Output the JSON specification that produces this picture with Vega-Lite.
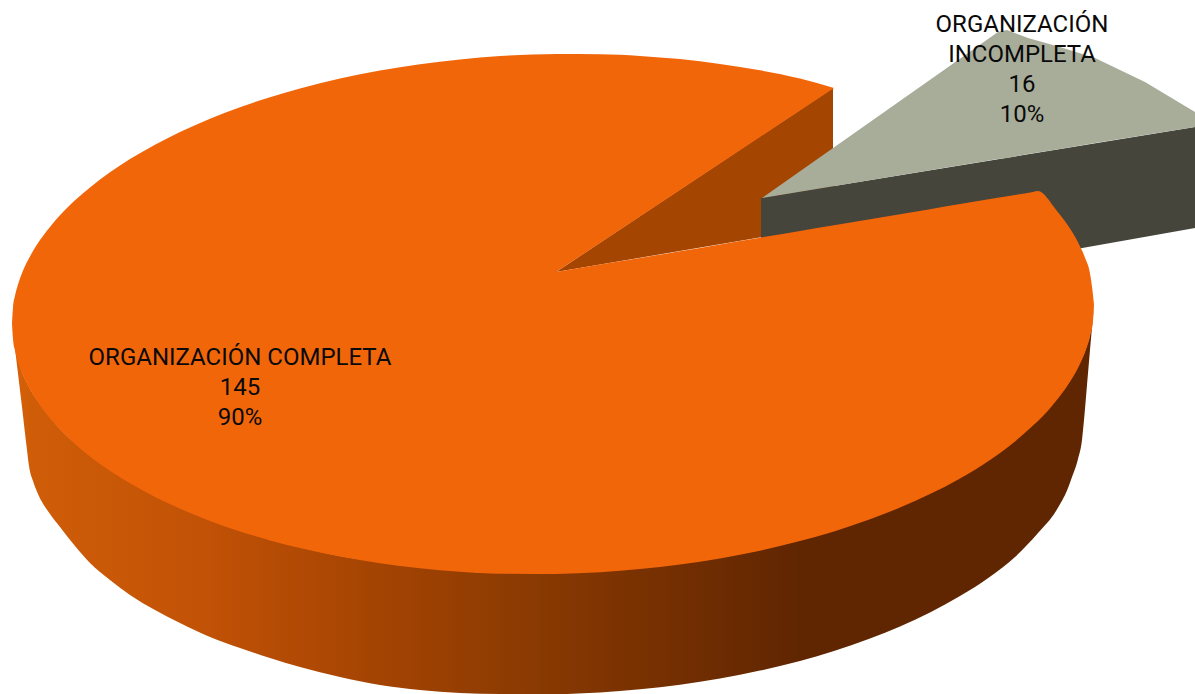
{
"$schema":"https://vega.github.io/schema/vega-lite/v6.json",
"width":1195,"height":694,"padding":0,
"autosize":{"type":"fit","contains":"padding"},
"background":"white",
"view":{"stroke":null},
"datasets":{
"outline":[
{"part":"wall","x":12,"y":323,"y2":323},{"part":"wall","x":16,"y":350,"y2":357},{"part":"wall","x":22,"y":372,"y2":407},{"part":"wall","x":27,"y":383,"y2":450},{"part":"wall","x":29,"y":387,"y2":466},{"part":"wall","x":33,"y":394,"y2":481},{"part":"wall","x":38,"y":401,"y2":494},{"part":"wall","x":50,"y":417,"y2":514},{"part":"wall","x":60,"y":429,"y2":527},{"part":"wall","x":75,"y":443,"y2":546},{"part":"wall","x":90,"y":455,"y2":563},{"part":"wall","x":110,"y":470,"y2":580},{"part":"wall","x":130,"y":482,"y2":595},{"part":"wall","x":155,"y":496,"y2":610},{"part":"wall","x":180,"y":508,"y2":623},{"part":"wall","x":210,"y":520,"y2":637},{"part":"wall","x":240,"y":530,"y2":648},{"part":"wall","x":270,"y":539,"y2":658},{"part":"wall","x":300,"y":547,"y2":667},{"part":"wall","x":340,"y":556,"y2":677},{"part":"wall","x":380,"y":562,"y2":685},{"part":"wall","x":420,"y":567,"y2":690},{"part":"wall","x":460,"y":571,"y2":693},{"part":"wall","x":500,"y":573,"y2":694},{"part":"wall","x":556,"y":573,"y2":694},{"part":"wall","x":600,"y":571,"y2":692.4},{"part":"wall","x":640,"y":568,"y2":689.3},{"part":"wall","x":680,"y":563,"y2":684.7},{"part":"wall","x":720,"y":557,"y2":678.5},{"part":"wall","x":760,"y":549,"y2":670.6},{"part":"wall","x":800,"y":540,"y2":661},{"part":"wall","x":834,"y":530,"y2":651},{"part":"wall","x":870,"y":518,"y2":638.5},{"part":"wall","x":900,"y":506,"y2":626.5},{"part":"wall","x":930,"y":493,"y2":612.4},{"part":"wall","x":960,"y":477,"y2":596},{"part":"wall","x":990,"y":458,"y2":576.7},{"part":"wall","x":1015,"y":440,"y2":557},{"part":"wall","x":1038,"y":419,"y2":533},{"part":"wall","x":1056,"y":399,"y2":511},{"part":"wall","x":1068,"y":383,"y2":488},{"part":"wall","x":1072,"y":376,"y2":477},{"part":"wall","x":1078,"y":366,"y2":459},{"part":"wall","x":1082,"y":358,"y2":440},{"part":"wall","x":1084,"y":354,"y2":420},{"part":"wall","x":1087,"y":345,"y2":385},{"part":"wall","x":1090,"y":335,"y2":350},{"part":"wall","x":1094,"y":305,"y2":305},
{"part":"notch","x":556,"y":272,"y2":272},{"part":"notch","x":833,"y":88,"y2":225},
{"part":"darkwall","x":761,"y":198,"y2":305},{"part":"darkwall","x":1195,"y":127,"y2":228},
{"part":"grey","x":762,"y":198,"y2":198},{"part":"grey","x":998,"y":32,"y2":159},{"part":"grey","x":1007,"y":30,"y2":158},{"part":"grey","x":1028,"y":38,"y2":154},{"part":"grey","x":1060,"y":47,"y2":149},{"part":"grey","x":1095,"y":58,"y2":143},{"part":"grey","x":1145,"y":82,"y2":135},{"part":"grey","x":1195,"y":112,"y2":127},
{"part":"left","x":12,"y":323.2,"y2":323.2},{"part":"left","x":13,"y":307.4,"y2":339},{"part":"left","x":15,"y":295.7,"y2":350.5},{"part":"left","x":18,"y":284.5,"y2":361.7},{"part":"left","x":22,"y":273.2,"y2":372.8},{"part":"left","x":27,"y":262.1,"y2":383.7},{"part":"left","x":33,"y":251.1,"y2":394.5},{"part":"left","x":40,"y":240.1,"y2":405.3},{"part":"left","x":50,"y":226.9,"y2":418.3},{"part":"left","x":60,"y":215.3,"y2":429.5},{"part":"left","x":75,"y":200.3,"y2":443.9},{"part":"left","x":90,"y":187.4,"y2":456.4},{"part":"left","x":110,"y":172.3,"y2":470.7},{"part":"left","x":130,"y":159.1,"y2":483.3},{"part":"left","x":155,"y":144.7,"y2":496.9},{"part":"left","x":180,"y":132,"y2":508.6},{"part":"left","x":210,"y":118.7,"y2":520.9},{"part":"left","x":240,"y":107.2,"y2":531.4},{"part":"left","x":270,"y":97.2,"y2":540.4},{"part":"left","x":300,"y":88.5,"y2":548.1},{"part":"left","x":340,"y":78.6,"y2":556.6},{"part":"left","x":380,"y":70.5,"y2":563.3},{"part":"left","x":420,"y":64.3,"y2":568.3},{"part":"left","x":460,"y":59.5,"y2":571.7},{"part":"left","x":500,"y":56.1,"y2":573.7},{"part":"left","x":557,"y":54,"y2":574},
{"part":"upper","x":556,"y":54,"y2":272},{"part":"upper","x":600,"y":54.2,"y2":243},{"part":"upper","x":640,"y":55.9,"y2":216.4},{"part":"upper","x":680,"y":59.1,"y2":190},{"part":"upper","x":720,"y":63.9,"y2":163.5},{"part":"upper","x":760,"y":70.3,"y2":137},{"part":"upper","x":800,"y":78.5,"y2":110.5},{"part":"upper","x":834,"y":88,"y2":88},
{"part":"lower","x":556,"y":272,"y2":574},{"part":"lower","x":600,"y":264.6,"y2":572.2},{"part":"lower","x":640,"y":257.9,"y2":569.1},{"part":"lower","x":680,"y":251.2,"y2":564.5},{"part":"lower","x":720,"y":244.4,"y2":558.5},{"part":"lower","x":760,"y":237.7,"y2":550.7},{"part":"lower","x":800,"y":231,"y2":541.1},{"part":"lower","x":834,"y":225.3,"y2":531.4},{"part":"lower","x":870,"y":219.2,"y2":519.3},{"part":"lower","x":900,"y":214.2,"y2":507.6},{"part":"lower","x":930,"y":209.2,"y2":494.1},{"part":"lower","x":960,"y":204.1,"y2":478.4},{"part":"lower","x":990,"y":199.1,"y2":459.9},{"part":"lower","x":1015,"y":194.9,"y2":441.4},{"part":"lower","x":1033,"y":191.9,"y2":425.5},{"part":"lower","x":1038,"y":191,"y2":421},{"part":"lower","x":1056,"y":209.7,"y2":401.1},{"part":"lower","x":1068,"y":225.6,"y2":384.8},{"part":"lower","x":1078,"y":242.3,"y2":367.9},{"part":"lower","x":1085,"y":257.8,"y2":352.2},{"part":"lower","x":1090,"y":273.4,"y2":336.4},{"part":"lower","x":1093,"y":295,"y2":320.6},{"part":"lower","x":1094,"y":304.8,"y2":304.8}
],
"labels":[
{"categoria":"ORGANIZACIÓN COMPLETA","cantidad":145,"porcentaje":"90%","label":"ORGANIZACIÓN COMPLETA\n145\n90%","x":240,"y":346},
{"categoria":"ORGANIZACIÓN INCOMPLETA","cantidad":16,"porcentaje":"10%","label":"ORGANIZACIÓN\nINCOMPLETA\n16\n10%","x":1022,"y":13}
]
},
"data":{"name":"outline"},
"encoding":{
"x":{"field":"x","type":"quantitative","scale":{"domain":[0,1195],"nice":false,"zero":false},"axis":null},
"y":{"field":"y","type":"quantitative","scale":{"domain":[0,694],"reverse":true,"nice":false,"zero":false},"axis":null},
"y2":{"field":"y2"}
},
"layer":[
{"transform":[{"filter":"datum.part==='wall'"}],"mark":{"type":"area","interpolate":"monotone","color":{"gradient":"linear","x1":0,"x2":1,"y1":0,"y2":0,"stops":[{"offset":0,"color":"#d96108"},{"offset":0.017,"color":"#cf5d08"},{"offset":0.174,"color":"#c25206"},{"offset":0.359,"color":"#a04202"},{"offset":0.482,"color":"#8a3a02"},{"offset":0.605,"color":"#752f01"},{"offset":0.728,"color":"#602602"},{"offset":1,"color":"#602602"}]}}},
{"transform":[{"filter":"datum.part==='notch'"}],"mark":{"type":"area","color":"#a44502"}},
{"transform":[{"filter":"datum.part==='darkwall'"}],"mark":{"type":"area","color":"#45453c"}},
{"transform":[{"filter":"datum.part==='grey'"}],"mark":{"type":"area","color":"#a8ad9a"}},
{"transform":[{"filter":"datum.part==='left'"}],"mark":{"type":"area","interpolate":"monotone","color":"#f2660a"}},
{"transform":[{"filter":"datum.part==='upper'"}],"mark":{"type":"area","interpolate":"monotone","color":"#f2660a"}},
{"transform":[{"filter":"datum.part==='lower'"}],"mark":{"type":"area","interpolate":"monotone","color":"#f2660a"}},
{"data":{"name":"labels"},
"mark":{"type":"text","font":"Roboto","fontSize":24,"lineBreak":"\n","lineHeight":30,"baseline":"top","align":"center","color":"#0a0a0a"},
"encoding":{"x":{"field":"x","type":"quantitative"},"y":{"field":"y","type":"quantitative"},"y2":null,"text":{"field":"label","type":"nominal"}}}
]
}
